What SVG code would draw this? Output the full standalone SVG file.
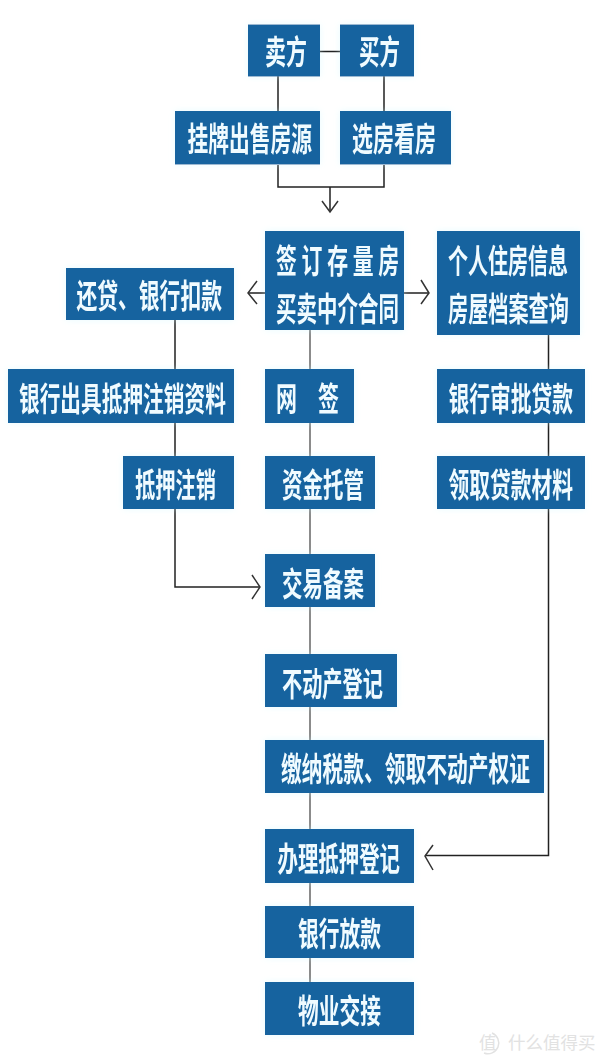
<svg xmlns="http://www.w3.org/2000/svg" width="600" height="1060" viewBox="0 0 600 1060">
<style>
.b{fill:#14639f;filter:url(#g)}
.t{font-family:"Noto Sans CJK SC","Noto Sans",sans-serif;font-size:33px;font-weight:700;fill:#f0fbff;filter:url(#h)}
.c{fill:none;stroke:#222;stroke-width:1.5}
.g{fill:none;stroke:#666;stroke-width:1.5}
.a{fill:none;stroke:#333;stroke-width:1.5}
.w{font-family:"Noto Sans CJK SC","Noto Sans",sans-serif;font-size:17.5px;fill:#e2e2e2}
</style>
<defs>
<filter id="g" x="-15%" y="-25%" width="130%" height="150%"><feGaussianBlur in="SourceGraphic" stdDeviation="3" result="b"/><feColorMatrix in="b" values="0 0 0 0 .6 0 0 0 0 .92 0 0 0 0 1 0 0 0 .45 0"/><feMerge><feMergeNode/><feMergeNode in="SourceGraphic"/></feMerge></filter>
<filter id="h" x="-5%" y="-10%" width="110%" height="120%"><feGaussianBlur stdDeviation=".45"/></filter>
</defs>
<rect width="600" height="1060" fill="#fff"/>
<g id="connectors">
<path class="c" d="M320 51.5H340M278 76V111M384 76V111M278 165V187H384V165M330 187V212"/>
<path class="a" d="M322 201L330 212L338 201"/>
<path class="c" d="M265 293H248M404 293H429"/>
<path class="a" d="M257 281L248 293L257 304M421 280L429 293L421 304"/>
<path class="c" d="M175 320V369M175 423V456M175 509V587H260"/>
<path class="a" d="M252 575L260 587L252 599"/>
<path class="g" d="M310 330V369M310 423V456M310 509V554M310 607V654M310 707V740M310 793V829M310 883V906M310 958V982"/>
<path class="c" d="M548.5 335V369M548.5 423V456M548.5 509V855.5H425"/>
<path class="a" d="M433 845L425 856L433 870"/>
</g>
<g id="n1"><rect class="b" x="248" y="24.5" width="72" height="52"/><text class="t" transform="translate(265 63.5) scale(.636 1)">卖方</text></g>
<g id="n2"><rect class="b" x="340" y="24.5" width="74" height="52"/><text class="t" transform="translate(359 63.5) scale(.62 1)">买方</text></g>
<g id="n3"><rect class="b" x="175" y="111" width="145" height="53.5"/><text class="t" transform="translate(187.5 150.5) scale(.629 1)">挂牌出售房源</text></g>
<g id="n4"><rect class="b" x="340" y="111" width="111" height="53.5"/><text class="t" transform="translate(352 150.5) scale(.636 1)">选房看房</text></g>
<g id="n5"><rect class="b" x="265" y="231" width="139" height="99"/><text class="t" transform="translate(276 272.5) scale(.632 1)">签 订 存 量 房</text><text class="t" transform="translate(276 320.5) scale(.621 1)">买卖中介合同</text></g>
<g id="n6"><rect class="b" x="437" y="231" width="143" height="104"/><text class="t" transform="translate(448 272.5) scale(.606 1)">个人住房信息</text><text class="t" transform="translate(448 320.5) scale(.611 1)">房屋档案查询</text></g>
<g id="n7"><rect class="b" x="66" y="268" width="168" height="52"/><text class="t" transform="translate(76.5 307.5) scale(.63 1)">还贷、银行扣款</text></g>
<g id="n8"><rect class="b" x="8" y="369" width="226" height="54"/><text class="t" transform="translate(19 410.5) scale(.627 1)">银行出具抵押注销资料</text></g>
<g id="n9"><rect class="b" x="265" y="369" width="89" height="54"/><text class="t" transform="translate(276 410.5) scale(.636 1)">网　签</text></g>
<g id="n10"><rect class="b" x="437" y="369" width="148" height="54"/><text class="t" transform="translate(448.5 410.5) scale(.629 1)">银行审批贷款</text></g>
<g id="n11"><rect class="b" x="123" y="456" width="111" height="53"/><text class="t" transform="translate(135 496.5) scale(.614 1)">抵押注销</text></g>
<g id="n12"><rect class="b" x="265" y="456" width="110" height="53"/><text class="t" transform="translate(282 496.5) scale(.621 1)">资金托管</text></g>
<g id="n13"><rect class="b" x="437" y="456" width="148" height="53"/><text class="t" transform="translate(448.5 496.5) scale(.629 1)">领取贷款材料</text></g>
<g id="n14"><rect class="b" x="265" y="554" width="110" height="53"/><text class="t" transform="translate(282 595.5) scale(.621 1)">交易备案</text></g>
<g id="n15"><rect class="b" x="265" y="654" width="132" height="53"/><text class="t" transform="translate(282 695.5) scale(.612 1)">不动产登记</text></g>
<g id="n16"><rect class="b" x="265" y="740" width="279" height="53"/><text class="t" transform="translate(281 780.5) scale(.629 1)">缴纳税款、领取不动产权证</text></g>
<g id="n17"><rect class="b" x="265" y="829" width="149" height="54"/><text class="t" transform="translate(277.5 870.5) scale(.619 1)">办理抵押登记</text></g>
<g id="n18"><rect class="b" x="265" y="906" width="149" height="52"/><text class="t" transform="translate(298 945.5) scale(.629 1)">银行放款</text></g>
<g id="n19"><rect class="b" x="265" y="982" width="149" height="53"/><text class="t" transform="translate(298 1022.5) scale(.629 1)">物业交接</text></g>
<g id="watermark"><text class="w" x="479" y="1049">值</text><path d="M492 1033A10.500 10.500 0 0 1 484 1053" fill="none" stroke="#e2e2e2" stroke-width="1.500"/><text class="w" x="508" y="1049">什么值得买</text></g>
</svg>
